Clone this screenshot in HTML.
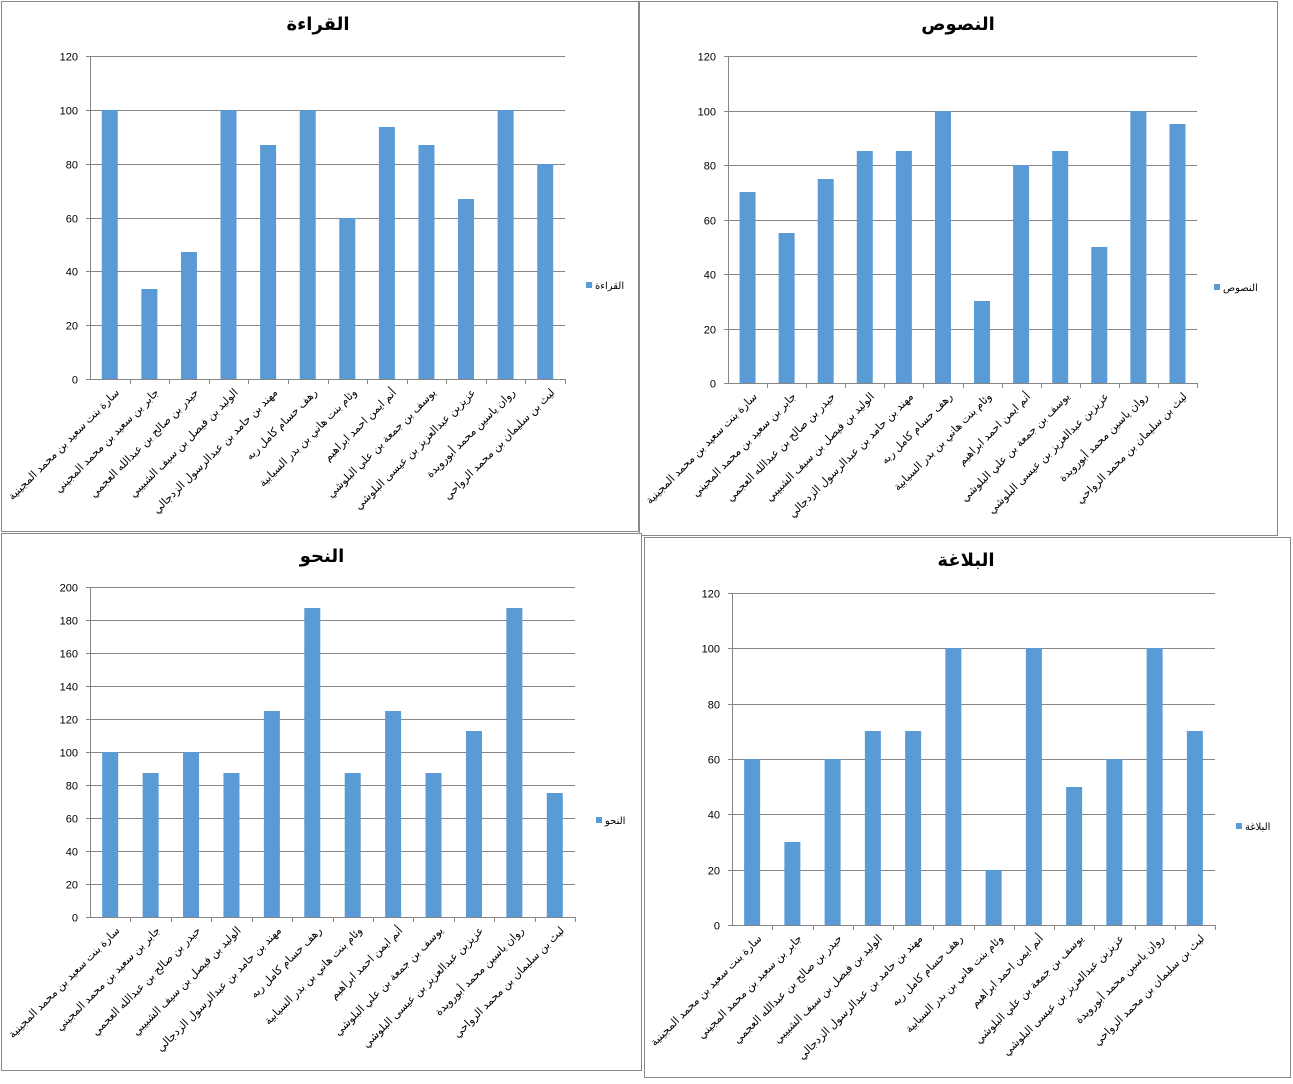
<!DOCTYPE html>
<html><head><meta charset="utf-8"><style>
body{margin:0;background:#fff;width:1293px;height:1084px;overflow:hidden}
svg{position:absolute;left:0;top:0}
text{font-family:"Liberation Sans","DejaVu Sans",sans-serif}
</style></head><body>
<svg id="s" width="1293" height="1084" xmlns="http://www.w3.org/2000/svg"></svg>
<script>
const names=["سارة بنت سعيد بن محمد المجينية","جابر بن سعيد بن محمد المجيني","حيدر بن صالح  بن عبدالله العجمي","الوليد بن فيصل بن سيف الشبيبي","مهند بن حامد بن عبدالرسول الزدجالي","رهف حسام كامل ربه","وئام بنت هاني بن بدر السيابية","أنم ايمن احمد ابراهيم","يوسف بن جمعة بن علي البلوشي","عزيزبن عبدالعزيز بن عيسى البلوشي","روان ياسين محمد أبورويدة","ليث بن سليمان بن محمد الرواحي"];
const charts=[
{bx:1,by:1,bw:637,bh:530,title:"القراءة",tx:318,ty:30,ax:90,ar:565,yt:56,y0:379,max:120,step:20,lx:586,ly:285,d:[100,33.3,47,100,87,100,60,93.5,87,67,100,80]},
{bx:639,by:1,bw:638,bh:534,title:"النصوص",tx:958,ty:30,ax:728,ar:1197,yt:56,y0:383,max:120,step:20,lx:1214,ly:287,d:[70,55,75,85,85,100,30,80,85,50,100,95]},
{bx:1,by:533,bw:640,bh:537,title:"النحو",tx:322,ty:562,ax:90,ar:575,yt:587,y0:917,max:200,step:20,lx:596,ly:820,d:[100,87.5,100,87.5,125,187.5,87.5,125,87.5,112.5,187.5,75]},
{bx:644,by:537,bw:646,bh:540,title:"البلاغة",tx:966,ty:566,ax:732,ar:1215,yt:593,y0:925,max:120,step:20,lx:1236,ly:826,d:[60,30,60,70,70,100,20,100,50,60,100,70]}];
let h="";
for(const c of charts){
 h+=`<rect x="${c.bx+.5}" y="${c.by+.5}" width="${c.bw}" height="${c.bh}" fill="#fff" stroke="#888"/>`;
 h+=`<text x="${c.tx}" y="${c.ty}" font-size="18" font-weight="bold" text-anchor="middle">${c.title}</text>`;
 const sc=(c.y0-c.yt)/c.max;
 for(let v=0;v<=c.max;v+=c.step){const y=Math.round(c.y0-v*sc)+.5;
  h+=`<line x1="${c.ax-4}" x2="${c.ar}" y1="${y}" y2="${y}" stroke="#868686"/>`;
  h+=`<text x="${c.ax-12}" y="${y+4}" font-size="11" text-anchor="end">${v}</text>`;}
 h+=`<line x1="${c.ax+.5}" x2="${c.ax+.5}" y1="${c.yt}" y2="${c.y0+1}" stroke="#868686"/>`;
 const cw=(c.ar-c.ax)/12;
 c.d.forEach((v,i)=>{const cx=c.ax+cw*(i+.5);const t=Math.round(c.y0-v*sc);
  h+=`<rect x="${cx-8}" y="${t}" width="16" height="${c.y0-t}" fill="#5b9bd5"/>`;
  const tk=Math.round(c.ax+cw*(i+1))+.5;
  h+=`<line x1="${tk}" x2="${tk}" y1="${c.y0}" y2="${c.y0+5}" stroke="#868686"/>`;
  const lx=cx+5,ly=c.y0+9;
  h+=`<text transform="translate(${lx},${ly}) rotate(-45)" font-size="11" text-anchor="end" dominant-baseline="hanging">${names[i]}</text>`;});
 h+=`<rect x="${c.lx}" y="${c.ly-3}" width="6" height="6" fill="#5b9bd5"/>`;
 h+=`<text x="${c.lx+9}" y="${c.ly+4}" font-size="10">${c.title}</text>`;
}
document.getElementById("s").innerHTML=h;
</script>
</body></html>
